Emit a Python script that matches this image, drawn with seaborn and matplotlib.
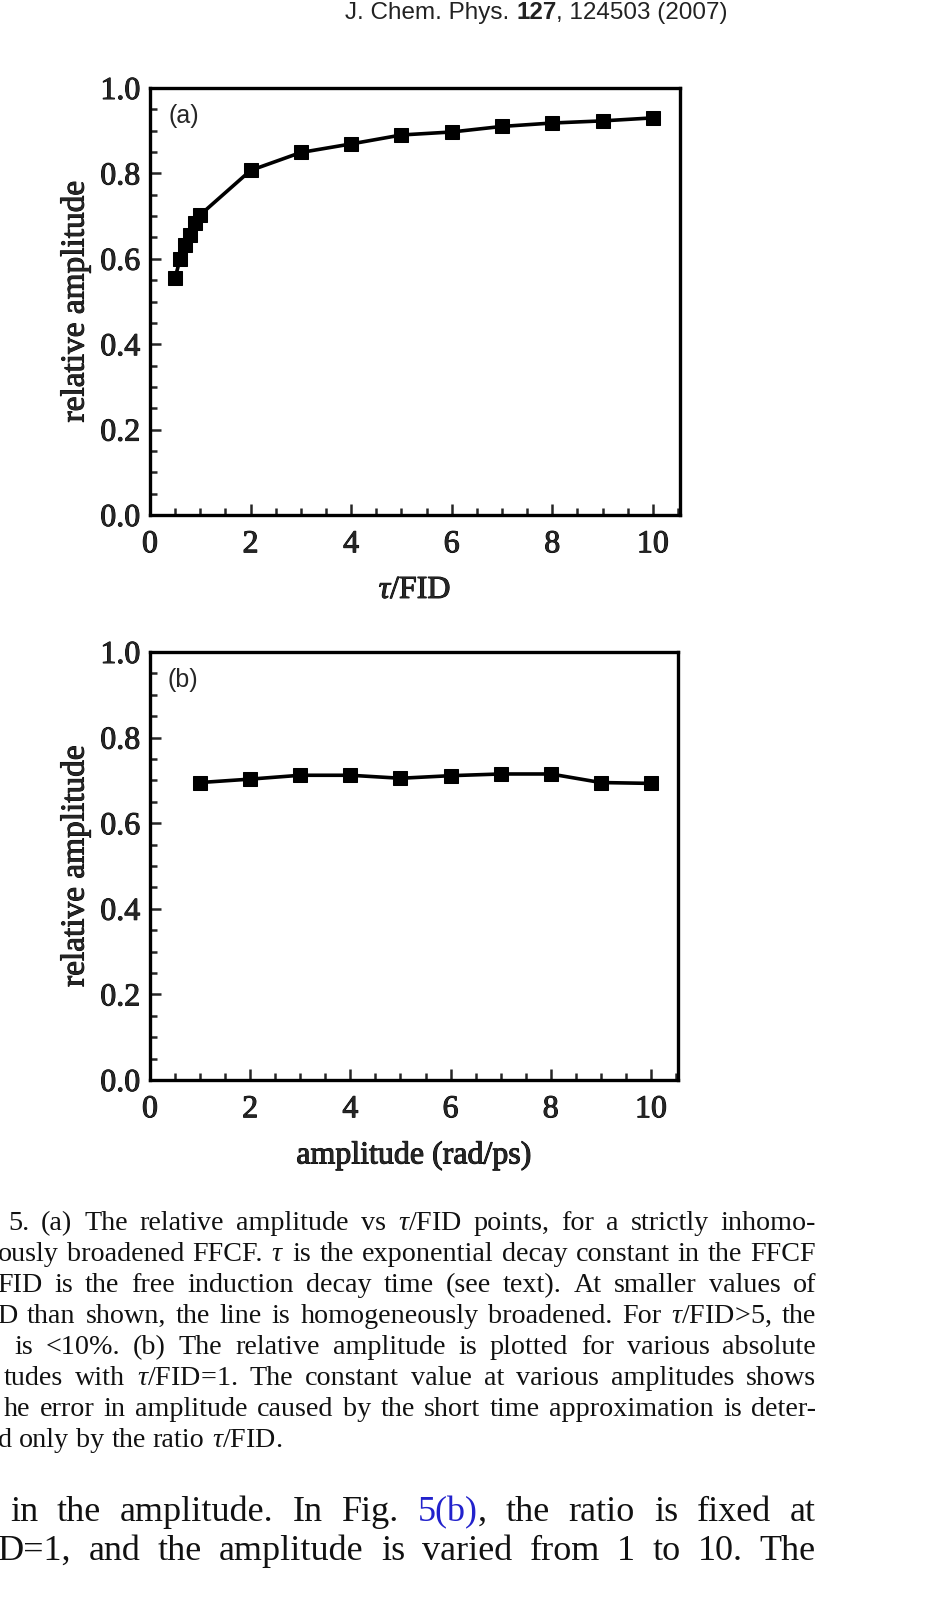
import numpy as np
import pandas as pd
import matplotlib
matplotlib.use('Agg')
import matplotlib.pyplot as plt
import matplotlib.patheffects as pe
from matplotlib.ticker import MultipleLocator, FormatStrFormatter
import seaborn as sns

# panel (a): relative amplitude vs tau/FID
tau_ratio = [0.5, 0.6, 0.7, 0.8, 0.9, 1, 2, 3, 4, 5, 6, 7, 8, 9, 10]
rel_amp_a = [0.556, 0.600, 0.632, 0.655, 0.683, 0.703, 0.807, 0.849,
             0.869, 0.890, 0.897, 0.910, 0.918, 0.923, 0.930]

# panel (b): relative amplitude vs absolute amplitude (tau/FID = 1)
amplitude = [1, 2, 3, 4, 5, 6, 7, 8, 9, 10]
rel_amp_b = [0.695, 0.703, 0.712, 0.712, 0.705, 0.711, 0.715, 0.715, 0.695, 0.693]

x_ticks = [0, 2, 4, 6, 8, 10]
y_ticks = [0.0, 0.2, 0.4, 0.6, 0.8, 1.0]

caption_lines = [
    r"5. (a) The relative amplitude vs $\tau$/FID points, for a strictly inhomo-",
    r"ously broadened FFCF. $\tau$ is the exponential decay constant in the FFCF",
    r"FID is the free induction decay time (see text). At smaller values of",
    r"D than shown, the line is homogeneously broadened. For $\tau$/FID>5, the",
    r"is <10%. (b) The relative amplitude is plotted for various absolute",
    r"tudes with $\tau$/FID=1. The constant value at various amplitudes shows",
    r"he error in amplitude caused by the short time approximation is deter-",
    r"d only by the ratio $\tau$/FID.",
]
caption_left = [8, -2, -3, -3, 14, 4, 4, -2]

sns.set_style('ticks')
plt.rcParams['font.family'] = ['Liberation Serif', 'DejaVu Serif']
plt.rcParams['mathtext.fontset'] = 'custom'
plt.rcParams['mathtext.rm'] = 'Liberation Serif'
plt.rcParams['mathtext.it'] = 'Liberation Serif:italic'
plt.rcParams['mathtext.bf'] = 'Liberation Serif:bold'

W, H = 926, 1600
RIGHT = 816
heavy = [pe.withStroke(linewidth=0.7, foreground='black')]

fig = plt.figure(figsize=(W / 100, H / 100), dpi=100)
fig.patch.set_facecolor('white')

ax_a = fig.add_axes([150 / W, 1 - 515 / H, 530 / W, 427 / H])
ax_b = fig.add_axes([150 / W, 1 - 1080 / H, 528 / W, 428 / H])

df_a = pd.DataFrame({'x': tau_ratio, 'y': rel_amp_a})
df_b = pd.DataFrame({'x': amplitude, 'y': rel_amp_b})

for ax, df in [(ax_a, df_a), (ax_b, df_b)]:
    sns.lineplot(data=df, x='x', y='y', ax=ax, color='black', linewidth=2.6,
                 marker='s', markersize=10, markeredgecolor='black', markerfacecolor='black')


def style_axes(ax, xlabel, tag):
    ax.set_xlim(0, 10.54)
    ax.set_ylim(0, 1.0)
    ax.set_xticks(x_ticks)
    ax.set_yticks(y_ticks)
    ax.yaxis.set_major_formatter(FormatStrFormatter('%.1f'))
    ax.xaxis.set_minor_locator(MultipleLocator(0.5))
    ax.yaxis.set_minor_locator(MultipleLocator(0.05))
    ax.tick_params(which='both', direction='in', width=1.8, labelsize=23)
    ax.tick_params(axis='x', pad=11)
    ax.tick_params(axis='y', pad=7)
    ax.tick_params(which='major', length=8)
    ax.tick_params(which='minor', length=5)
    for sp in ax.spines.values():
        sp.set_visible(True)
        sp.set_linewidth(2.4)
        sp.set_color('black')
    ax.set_xlabel(xlabel, fontsize=23, labelpad=12)
    ax.set_ylabel('relative amplitude', fontsize=24, labelpad=7)
    for lab in ax.get_xticklabels() + ax.get_yticklabels() + [ax.xaxis.label, ax.yaxis.label]:
        lab.set_path_effects(heavy)
    ax.text(0.034, 0.935, tag, transform=ax.transAxes, fontsize=18,
            family='Liberation Sans', va='center', ha='left')
    ax.grid(False)


style_axes(ax_a, r'$\tau$/FID', '(a)')
style_axes(ax_b, 'amplitude (rad/ps)', '(b)')

renderer = fig.canvas.get_renderer()


def width_px(t):
    return t.get_window_extent(renderer).width


def natural_width(line, **kw):
    t = fig.text(0, 0, line, **kw)
    w = width_px(t)
    t.remove()
    return w


def place_words(y_px, x0, x1, words, justify=True, colors=None, extra=None, **kw):
    texts = []
    for i, w in enumerate(words):
        c = colors[i] if colors else kw.get('color', 'black')
        kk = dict(kw, color=c)
        texts.append(fig.text(0, 1 - y_px / H, w, va='baseline', ha='left', **kk))
    widths = [width_px(t) for t in texts]
    if extra:
        for k, v in extra.items():
            widths[k] += v
    if justify and len(words) > 1:
        gap = (x1 - x0 - sum(widths)) / (len(words) - 1)
    else:
        gap = natural_width('a a', **kw) - 2 * natural_width('a', **kw)
    x = x0
    for t, w in zip(texts, widths):
        t.set_x(x / W)
        x += w + gap
    return texts


# journal header at the top edge
hx = 345
for s, wt in [('J. Chem. Phys. ', 'normal'), ('127', 'bold'), (', 124503 (2007)', 'normal')]:
    t = fig.text(hx / W, 1 - 19 / H, s, fontsize=17.5, family='Liberation Sans',
                 fontweight=wt, va='baseline', ha='left', color='#222222')
    hx += width_px(t)

# figure caption: pick the size so the tightest justified line just fits
ref_size = 17
fit = min((RIGHT - x0) / natural_width(line, fontsize=ref_size)
          for line, x0 in zip(caption_lines[:-1], caption_left[:-1]))
cap_size = ref_size * fit * 0.985

base_y = 1230
for i, (line, x0) in enumerate(zip(caption_lines, caption_left)):
    place_words(base_y + i * 31, x0, RIGHT, line.split(' '),
                justify=(i < len(caption_lines) - 1), fontsize=cap_size, color='#111111')

# body text below the caption
body_kw = dict(fontsize=26)
words1 = ['in', 'the', 'amplitude.', 'In', 'Fig.', '5(b)', 'the', 'ratio', 'is', 'fixed', 'at']
cols = ['#111111'] * len(words1)
cols[5] = '#2222cc'
comma_w = natural_width(',', **body_kw)
texts = place_words(1521, 10, RIGHT, words1, colors=cols, extra={5: comma_w}, **body_kw)
# comma after the blue reference, kept black
fig.text(texts[5].get_position()[0] + (width_px(texts[5])) / W, 1 - 1521 / H, ',',
         va='baseline', ha='left', color='#111111', **body_kw)

place_words(1560, -2, RIGHT, 'D=1, and the amplitude is varied from 1 to 10. The'.split(' '),
            justify=True, color='#111111', **body_kw)

fig.savefig('out.png', dpi=100, facecolor='white')
